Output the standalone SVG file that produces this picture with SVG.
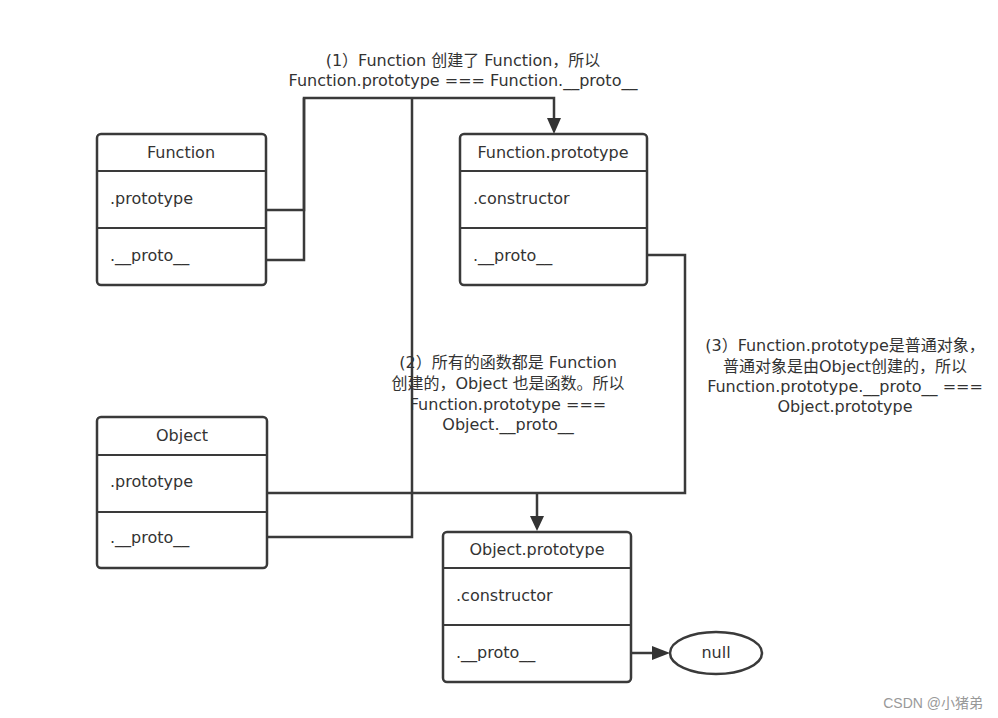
<svg xmlns="http://www.w3.org/2000/svg" width="998" height="718" viewBox="0 0 998 718">
<style>
.box{fill:#fff;stroke:#3a3a3a;stroke-width:2.5}
.div{stroke:#3a3a3a;stroke-width:2}
.t{font-family:"DejaVu Sans","Noto Sans CJK SC",sans-serif;font-size:16px;fill:#333}
.c{text-anchor:middle}
.ln{fill:none;stroke:#3a3a3a;stroke-width:2.5}
</style>
<rect width="998" height="718" fill="#fff"/>
<g id="connectors">
<polyline class="ln" points="266,210 304,210 304,98 554,98 554,120"/>
<polyline class="ln" points="266,260 304,260 304,98"/>
<polyline class="ln" points="412,98 412,537 267,537"/>
<polyline class="ln" points="647,255 685,255 685,493 267,493"/>
<line class="ln" x1="537" y1="493" x2="537" y2="518"/>
<path d="M547,118 L561,118 L554,134 z" fill="#333"/>
<path d="M530,516 L544,516 L537,531 z" fill="#333"/>
<line class="ln" x1="632" y1="653" x2="654" y2="653"/>
<path d="M652,646 L652,660 L670,653 z" fill="#333"/>
</g>
<g id="label1">
<text class="t c" x="463" y="66">(1）Function 创建了 Function，所以</text>
<text class="t c" x="463" y="86">Function.prototype === Function.__proto__</text>
</g>
<g id="label2">
<text class="t c" x="508" y="368">(2）所有的函数都是 Function</text>
<text class="t c" x="508" y="389">创建的，Object 也是函数。所以</text>
<text class="t c" x="508" y="410">Function.prototype ===</text>
<text class="t c" x="508" y="430">Object.__proto__</text>
</g>
<g id="label3">
<text class="t c" x="845" y="351">(3）Function.prototype是普通对象，</text>
<text class="t c" x="845" y="372">普通对象是由Object创建的，所以</text>
<text class="t c" x="845" y="392">Function.prototype.__proto__ ===</text>
<text class="t c" x="845" y="412">Object.prototype</text>
</g>
<g id="Function">
<rect class="box" x="97" y="134" width="169" height="151" rx="4"/>
<line class="div" x1="97" y1="171" x2="266" y2="171"/>
<line class="div" x1="97" y1="228" x2="266" y2="228"/>
<text class="t c" x="181" y="158">Function</text>
<text class="t" x="110" y="204">.prototype</text>
<text class="t" x="110" y="261">.__proto__</text>
</g>
<g id="FunctionPrototype">
<rect class="box" x="460" y="134" width="187" height="151" rx="4"/>
<line class="div" x1="460" y1="171" x2="647" y2="171"/>
<line class="div" x1="460" y1="228" x2="647" y2="228"/>
<text class="t c" x="553" y="158">Function.prototype</text>
<text class="t" x="473" y="204">.constructor</text>
<text class="t" x="473" y="261">.__proto__</text>
</g>
<g id="Object">
<rect class="box" x="97" y="417" width="170" height="151" rx="4"/>
<line class="div" x1="97" y1="455" x2="267" y2="455"/>
<line class="div" x1="97" y1="512" x2="267" y2="512"/>
<text class="t c" x="182" y="441">Object</text>
<text class="t" x="110" y="487">.prototype</text>
<text class="t" x="110" y="543">.__proto__</text>
</g>
<g id="ObjectPrototype">
<rect class="box" x="443" y="532" width="188" height="150" rx="4"/>
<line class="div" x1="443" y1="568" x2="631" y2="568"/>
<line class="div" x1="443" y1="625" x2="631" y2="625"/>
<text class="t c" x="537" y="555">Object.prototype</text>
<text class="t" x="456" y="601">.constructor</text>
<text class="t" x="456" y="658">.__proto__</text>
</g>
<g id="null">
<ellipse cx="716" cy="653" rx="46" ry="21" fill="#fff" stroke="#3a3a3a" stroke-width="2.5"/>
<text class="t c" x="716" y="658">null</text>
</g>
<text x="983" y="708" text-anchor="end" font-family="Liberation Sans,'Noto Sans CJK SC',sans-serif" font-size="14" fill="#999">CSDN @小猪弟</text>
</svg>
